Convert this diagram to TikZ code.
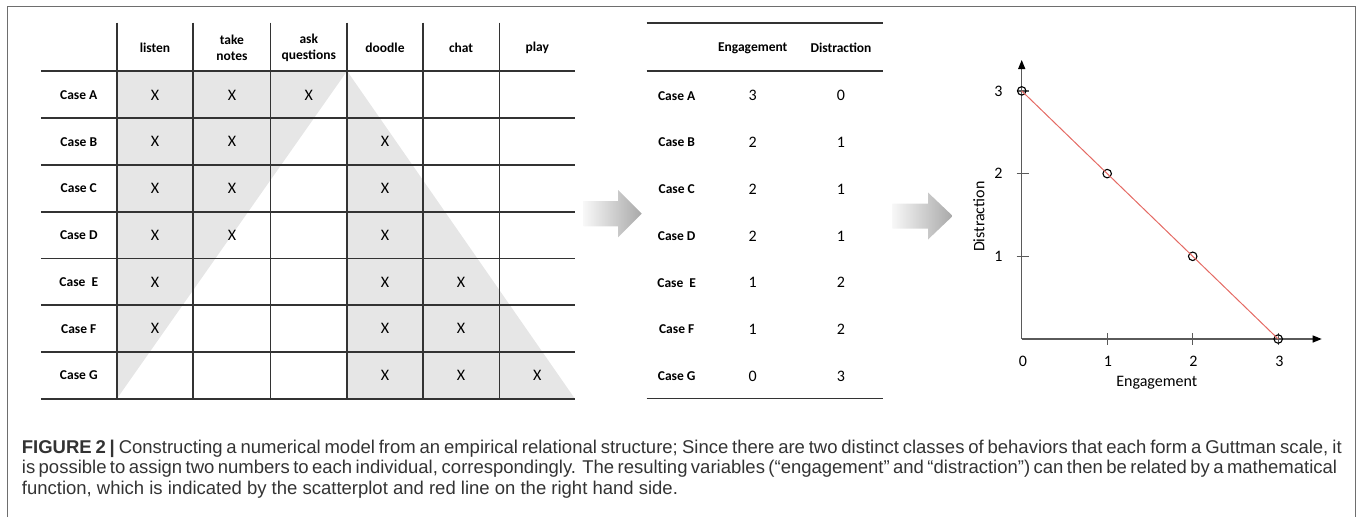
\documentclass[tikz,border=0pt]{standalone}
\usepackage{fontspec}
\setmainfont{Carlito}
\newfontfamily\capfont{Liberation Sans}
\usetikzlibrary{arrows.meta}
\definecolor{cellgray}{HTML}{E6E6E6}
\definecolor{rulegray}{HTML}{333333}
\definecolor{axisgray}{HTML}{5A5A5A}
\definecolor{fitred}{HTML}{E46A64}
\definecolor{framegray}{HTML}{6E6E6E}
\definecolor{captext}{HTML}{333333}
\tikzstyle{head} = [font = \fontsize{13.5}{16.5}\selectfont\bfseries, align = center, inner sep = 0pt]
\tikzstyle{case} = [font = \fontsize{13.5}{15}\selectfont\bfseries, inner sep = 0pt, text height = 8.8pt, text depth = 0pt]
\tikzstyle{cross} = [font = \fontsize{16}{18}\selectfont, inner sep = 0pt, text height = 10.2pt, text depth = 0pt]
\tikzstyle{tablerule} = [draw = rulegray, line width = 1.6pt]
\tikzstyle{blockarrow} = [left color = gray!6, right color = gray!68]
\tikzstyle{plotaxis} = [draw = axisgray, line width = 1.2pt, -{Triangle[length = 9pt, width = 7pt, color = black]}]
\tikzstyle{dot} = [circle, draw = black, line width = 1.1pt, inner sep = 0pt, minimum size = 8.5pt]
\tikzstyle{caption} = [font = \capfont\fontsize{18.5}{21}\selectfont, text = captext, anchor = base west, inner sep = 0pt]

\begin{document}
\begin{tikzpicture}[x = 1pt, y = -1pt]
            \useasboundingbox (0, 0) rectangle (1357, 517);
            \draw [framegray, line width = 1.3pt] (7.3, 517) -- (7.3, 6.7) -- (1355.3, 6.7) -- (1355.3, 517);
            % behaviour table
            \fill [cellgray] (116.7, 71) -- (347.1, 71) -- (116.7, 399) -- cycle;
            \fill [cellgray] (347.1, 71) -- (575.1, 399) -- (347.1, 399) -- cycle;
            \foreach \y in {71, 118, 164.7, 211.7, 258.3, 305, 352, 399}
                \draw [tablerule] (40.9, \y) -- (575.1, \y);
            \foreach \x in {116.7, 193.2, 270.5, 347.1, 422.8, 499.4}
                \draw [tablerule] (\x, 22.7) -- (\x, 399);
            \node (listen) at (155, 48.3) [head] {listen};
            \node (notes) at (231.9, 47.7) [head] {take\\notes};
            \node (ask) at (308.8, 47.7) [head] {ask\\questions};
            \node (doodle) at (385, 48.3) [head] {doodle};
            \node (chat) at (461.1, 48.3) [head] {chat};
            \node (play) at (537.3, 48.3) [head] {play};
            \node (lA) at (78.8, 95) [case] {Case A};
            \node (lB) at (78.8, 141.7) [case] {Case B};
            \node (lC) at (78.8, 188.5) [case] {Case C};
            \node (lD) at (78.8, 235.3) [case] {Case D};
            \node (lE) at (78.8, 282) [case] {Case\ \ E};
            \node (lF) at (78.8, 328.8) [case] {Case F};
            \node (lG) at (78.8, 375.5) [case] {Case G};
            \node (xA1) at (155, 95) [cross] {X};
            \node (xA2) at (231.9, 95) [cross] {X};
            \node (xA3) at (308.8, 95) [cross] {X};
            \node (xB1) at (155, 141.7) [cross] {X};
            \node (xB2) at (231.9, 141.7) [cross] {X};
            \node (xB4) at (385, 141.7) [cross] {X};
            \node (xC1) at (155, 188.5) [cross] {X};
            \node (xC2) at (231.9, 188.5) [cross] {X};
            \node (xC4) at (385, 188.5) [cross] {X};
            \node (xD1) at (155, 235.3) [cross] {X};
            \node (xD2) at (231.9, 235.3) [cross] {X};
            \node (xD4) at (385, 235.3) [cross] {X};
            \node (xE1) at (155, 282) [cross] {X};
            \node (xE4) at (385, 282) [cross] {X};
            \node (xE5) at (461.1, 282) [cross] {X};
            \node (xF1) at (155, 328.8) [cross] {X};
            \node (xF4) at (385, 328.8) [cross] {X};
            \node (xF5) at (461.1, 328.8) [cross] {X};
            \node (xG4) at (385, 375.5) [cross] {X};
            \node (xG5) at (461.1, 375.5) [cross] {X};
            \node (xG6) at (537.3, 375.5) [cross] {X};
            \shade [blockarrow] (583.6, 201) -- (618, 201) -- (618, 190) -- (641.7, 213.7) -- (618, 237.4) -- (618, 226.4) -- (583.6, 226.4) -- cycle;
            % score table
            \draw [tablerule] (646.7, 22.7) -- (883.3, 22.7);
            \draw [tablerule] (646.7, 71) -- (883.3, 71);
            \draw [tablerule] (646.7, 398.3) -- (883.3, 398.3);
            \node (eng) at (752.7, 48.3) [head] {Engagement};
            \node (dis) at (841, 48.3) [head] {Distraction};
            \node (mA) at (676.7, 95.7) [case] {Case A};
            \node (mB) at (676.7, 142.3) [case] {Case B};
            \node (mC) at (676.7, 189) [case] {Case C};
            \node (mD) at (676.7, 236) [case] {Case D};
            \node (mE) at (676.7, 282.7) [case] {Case\ \ E};
            \node (mF) at (676.7, 329.3) [case] {Case F};
            \node (mG) at (676.7, 376) [case] {Case G};
            \node (eA) at (752.7, 95.7) [cross] {3};
            \node (eB) at (752.7, 142.3) [cross] {2};
            \node (eC) at (752.7, 189) [cross] {2};
            \node (eD) at (752.7, 236) [cross] {2};
            \node (eE) at (752.7, 282.7) [cross] {1};
            \node (eF) at (752.7, 329.3) [cross] {1};
            \node (eG) at (752.7, 376) [cross] {0};
            \node (dA) at (841, 95.7) [cross] {0};
            \node (dB) at (841, 142.3) [cross] {1};
            \node (dC) at (841, 189) [cross] {1};
            \node (dD) at (841, 236) [cross] {1};
            \node (dE) at (841, 282.7) [cross] {2};
            \node (dF) at (841, 329.3) [cross] {2};
            \node (dG) at (841, 376) [cross] {3};
            \shade [blockarrow] (892.3, 203.5) -- (928, 203.5) -- (928, 192.5) -- (952.7, 216) -- (928, 239.5) -- (928, 228.5) -- (892.3, 228.5) -- cycle;
            % scatterplot
            \coordinate (O) at (1021.7, 339);
            \coordinate (xend) at (1321.7, 339);
            \coordinate (yend) at (1021.7, 60);
            \draw [plotaxis] (O) -- (xend);
            \draw [plotaxis] (O) -- (yend);
            \foreach \x in {1107.2, 1192.7, 1278.2}
                \draw [axisgray, line width = 1.2pt] (\x, 333.3) -- (\x, 345);
            \foreach \y in {256.3, 173.6, 90.9}
                \draw [axisgray, line width = 1.2pt] (1016.7, \y) -- (1029.3, \y);
            \node (p0) at (1021.7, 90.9) [dot] {};
            \node (p1) at (1107.2, 173.6) [dot] {};
            \node (p2) at (1192.7, 256.3) [dot] {};
            \node (p3) at (1278.2, 339) [dot] {};
            \draw [fitred, line width = 1pt] (p0.center) -- (p3.center);
            \node (x0) at (1023, 361.7) [cross] {0};
            \node (x1) at (1108, 361.7) [cross] {1};
            \node (x2) at (1193.5, 361.7) [cross] {2};
            \node (x3) at (1279.5, 361.7) [cross] {3};
            \node (y1) at (998.3, 256.3) [cross] {1};
            \node (y2) at (998.3, 173.6) [cross] {2};
            \node (y3) at (998.3, 90.9) [cross] {3};
            \node (xlab) at (1156.7, 381.7) [cross] {Engagement};
            \node (ylab) at (979.3, 216.7) [cross, rotate = 90] {Distraction};
            % caption
            \node (cap1) at (21.7, 453.3) [caption] {\makebox[1320pt][s]{\textbf{FIGURE 2 |} Constructing a numerical model from an empirical relational structure; Since there are two distinct classes of behaviors that each form a Guttman scale, it}};
            \node (cap2) at (21.7, 473.8) [caption] {\makebox[1315pt][s]{is possible to assign two numbers to each individual, correspondingly. The resulting variables (“engagement” and “distraction”) can then be related by a mathematical}};
            \node (cap3) at (21.7, 494.3) [caption] {function, which is indicated by the scatterplot and red line on the right hand side.};
        \end{tikzpicture}
\end{document}
